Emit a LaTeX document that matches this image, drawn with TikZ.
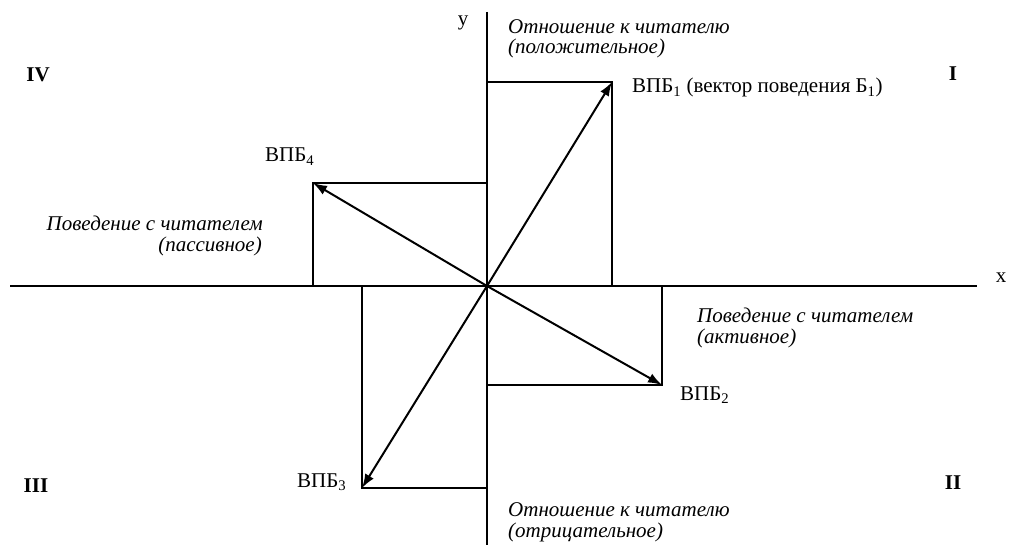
\documentclass[tikz,border=0pt]{standalone}
\usepackage{fontspec}
\setmainfont{Liberation Serif}
\usetikzlibrary{arrows.meta}
\begin{document}
\begin{tikzpicture}[x=1pt,y=-1pt,
  ln/.style={line width=2pt},
  vec/.style={line width=2pt,-{Latex[length=14pt,width=10pt]}},
  lbl/.style={font=\fontsize{21}{21}\selectfont,inner sep=0pt},
  ital/.style={font=\fontsize{21}{21}\selectfont\itshape,inner sep=0pt},
  quad/.style={font=\fontsize{21}{21}\selectfont\bfseries,inner sep=0pt}]
\useasboundingbox (0,0) rectangle (1009,545);
% axes
\coordinate (O) at (487,286);
\coordinate (xl) at (10,286);
\coordinate (xr) at (977,286);
\coordinate (yt) at (487,12);
\coordinate (yb) at (487,545);
\draw[ln] (xl) -- (xr);
\draw[ln] (yt) -- (yb);
% rectangles
\coordinate (P1) at (612,82);
\coordinate (P2) at (662,385);
\coordinate (P3) at (362,488);
\coordinate (P4) at (313,183);
\draw[ln] (O) rectangle (P1);
\draw[ln] (O) rectangle (P2);
\draw[ln] (O) rectangle (P3);
\draw[ln] (O) rectangle (P4);
% vectors
\draw[vec] (O) -- (P1);
\draw[vec] (O) -- (P2);
\draw[vec] (O) -- (P3);
\draw[vec] (O) -- (P4);
% axis labels
\node[lbl,anchor=base] (ylab) at (463,26) {y};
\node[lbl,anchor=base] (xlab) at (1001,283) {x};
% quadrants
\node[quad,anchor=base] (q4) at (38,82) {IV};
\node[quad,anchor=base] (q1) at (953,81) {I};
\node[quad,anchor=base] (q3) at (36,492) {III};
\node[quad,anchor=base] (q2) at (953,489) {II};
% texts
\node[ital,anchor=base west] (top1) at (508,34) {Отношение к читателю};
\node[ital,anchor=base west] (top2) at (508,54) {(положительное)};
\node[ital,anchor=base west] (bot1) at (508,516) {Отношение к читателю};
\node[ital,anchor=base west] (bot2) at (508,537) {(отрицательное)};
\node[ital,anchor=base east] (left1) at (263,231) {Поведение с читателем};
\node[ital,anchor=base east] (left2) at (262,252) {(пассивное)};
\node[ital,anchor=base west] (right1) at (697,323) {Поведение с читателем};
\node[ital,anchor=base west] (right2) at (697,343) {(активное)};
\node[lbl,anchor=base west] (v1) at (632,93) {ВПБ\textsubscript{1} (вектор поведения Б\textsubscript{1})};
\node[lbl,anchor=base west] (v2) at (680,400) {ВПБ\textsubscript{2}};
\node[lbl,anchor=base west] (v3) at (297,487) {ВПБ\textsubscript{3}};
\node[lbl,anchor=base west] (v4) at (265,162) {ВПБ\textsubscript{4}};
\end{tikzpicture}
\end{document}
